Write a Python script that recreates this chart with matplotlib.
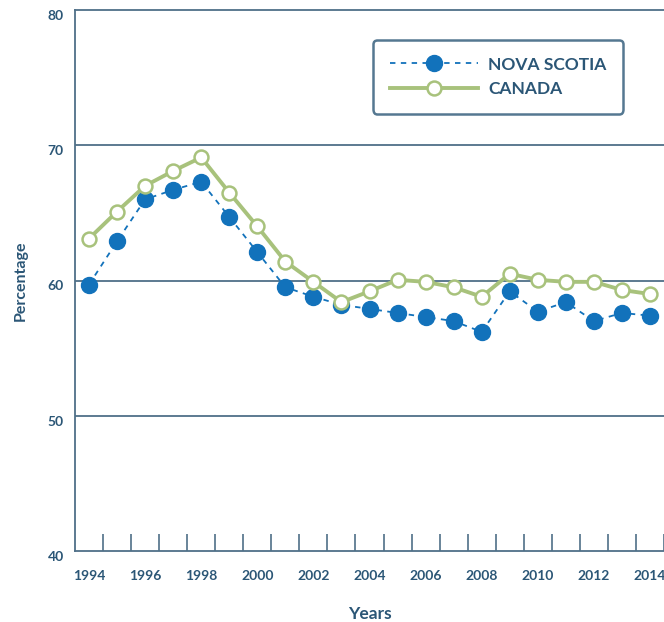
import matplotlib
matplotlib.use("Agg")
import matplotlib.pyplot as plt
from matplotlib.transforms import ScaledTranslation
from matplotlib.ticker import FixedLocator

years = list(range(1994, 2015))
nova_scotia = [59.7, 62.9, 66.0, 66.7, 67.3, 64.7, 62.1, 59.5, 58.8, 58.2, 57.9, 57.6,
               57.3, 57.0, 56.2, 59.2, 57.7, 58.4, 57.0, 57.6, 57.4]
canada = [63.1, 65.1, 67.0, 68.1, 69.1, 66.5, 64.0, 61.4, 59.9, 58.4, 59.2, 60.05,
          59.9, 59.5, 58.8, 60.5, 60.05, 59.9, 59.9, 59.3, 59.0]
x_tick_labels = [str(y) for y in range(1994, 2015, 2)]
y_ticks = [40, 50, 60, 70, 80]

TXT = "#2b5676"
GRID = "#4f7088"
BLUE = "#1272bb"
GREEN = "#a8c27c"

plt.rcParams['font.family'] = ['Lato', 'DejaVu Sans']

fig = plt.figure(figsize=(6.64, 6.22), dpi=100)
ax = fig.add_axes([75/664, 1-551/622, 1-75/664, (551-10)/622])

ax.plot(years, nova_scotia, linestyle=(0, (3, 3)), color=BLUE, linewidth=1.3,
        marker='o', markersize=11.5, markerfacecolor=BLUE, markeredgecolor=BLUE,
        label='NOVA SCOTIA', zorder=3)
ax.plot(years, canada, linestyle='-', color=GREEN, linewidth=2.8,
        marker='o', markersize=10, markerfacecolor='white', markeredgecolor=GREEN,
        markeredgewidth=1.8, label='CANADA', zorder=4)

ax.set_xlim(1993.5, 2014.5)
ax.set_ylim(40, 80)
ax.set_yticks(y_ticks)
ax.set_xticks(list(range(1994, 2015, 2)))
ax.set_xticklabels(x_tick_labels)
ax.xaxis.set_minor_locator(FixedLocator([y + 0.5 for y in range(1994, 2015)]))
ax.tick_params(axis='x', which='major', length=0, pad=14, labelsize=10, labelcolor=TXT)
ax.tick_params(axis='x', which='minor', direction='in', length=12, width=1.2, color=GRID)
ax.tick_params(axis='y', which='major', direction='in', length=0, pad=8, labelsize=10,
               labelcolor=TXT)
for lab in ax.get_xticklabels() + ax.get_yticklabels():
    lab.set_fontweight('bold')
for lab in ax.get_yticklabels():
    lab.set_transform(lab.get_transform() + ScaledTranslation(0, -5/100, fig.dpi_scale_trans))

for v in [50, 60, 70]:
    ax.axhline(v, color=GRID, linewidth=1.3, zorder=1)

for s in ['left', 'bottom', 'top']:
    ax.spines[s].set_color(GRID)
    ax.spines[s].set_linewidth(1.3)
ax.spines['right'].set_visible(False)

ax.set_ylabel('Percentage', fontsize=11.5, fontweight='bold', color=TXT, labelpad=14)
ax.set_xlabel('Years', fontsize=12.5, fontweight='bold', color=TXT, labelpad=17)

leg = ax.legend(loc='upper left', bbox_to_anchor=(0.506, 0.9445), frameon=True,
                fontsize=12.5, handlelength=5.1, handletextpad=0.6, borderpad=0.95,
                labelspacing=0.5, fancybox=True, borderaxespad=0)
leg.get_frame().set_edgecolor(TXT)
leg.get_frame().set_linewidth(1.8)
leg.get_frame().set_boxstyle('round', pad=0, rounding_size=0.25)
for t in leg.get_texts():
    t.set_color(TXT)
    t.set_fontweight('bold')

fig.savefig('out.png', dpi=100)
